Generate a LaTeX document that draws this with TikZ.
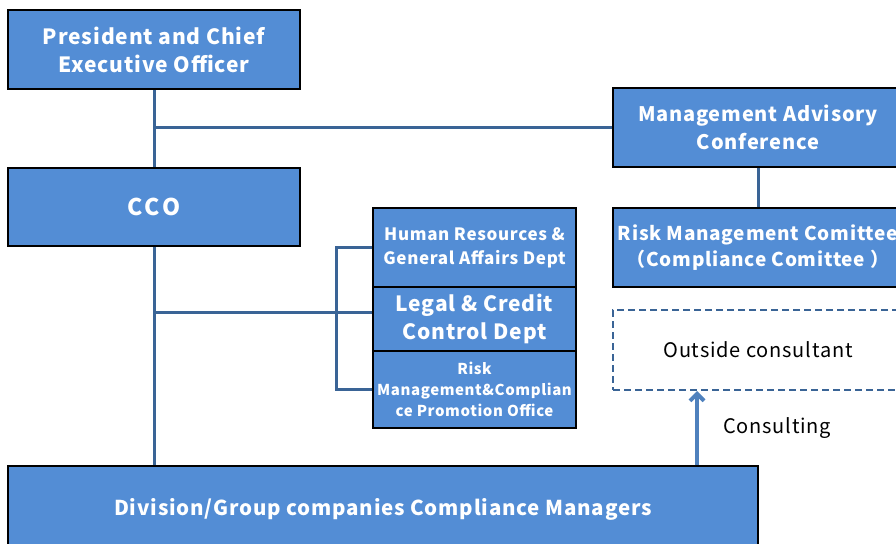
\documentclass[tikz,border=0pt]{standalone}
\usepackage{fontspec}
\setmainfont{Noto Sans CJK JP}[LetterSpace=4]
\usetikzlibrary{arrows.meta}
\definecolor{boxblue}{RGB}{83,141,213}
\definecolor{linkblue}{RGB}{58,100,150}
\definecolor{arrowblue}{RGB}{79,129,189}
\tikzset{
  orgbox/.style={draw=black, line width=1.5pt, fill=boxblue, text=white, align=center, inner sep=0pt},
  link/.style={draw=linkblue, line width=3pt},
  dashbox/.style={draw=linkblue, line width=2pt, dash pattern=on 7pt off 4pt, align=center, inner sep=0pt},
  consultarrow/.style={draw=arrowblue, line width=4pt, -{Straight Barb[length=7pt,width=14pt]}},
}
\newcommand{\fs}[2]{\fontsize{#1}{#2}\selectfont}
\begin{document}
\begin{tikzpicture}[x=1pt,y=-1pt]
\useasboundingbox (0,0) rectangle (896,543);
\node[orgbox, minimum width=292, minimum height=79, font=\bfseries\fs{21}{28}] (ceo) at (154,49.5) {President and Chief\\Executive Officer};
\node[orgbox, minimum width=292, minimum height=78, font=\bfseries\fs{23}{28}\addfontfeatures{LetterSpace=12}] (cco) at (154,207) {CCO};
\node[orgbox, minimum width=290, minimum height=79, font=\bfseries\fs{20}{28}] (mac) at (758,127.5) {Management Advisory\\Conference};
\node[orgbox, minimum width=290, minimum height=79, font=\bfseries\fs{19}{26}] (rmc) at (758,247.5) {Risk Management Comittee\\（Compliance Comittee ）};
\node[orgbox, minimum width=203, minimum height=79, font=\bfseries\fs{17}{24}] (hr) at (474.5,247.5) {Human Resources \&\\General Affairs Dept};
\node[orgbox, minimum width=203, minimum height=64, font=\bfseries\fs{21}{28}] (legal) at (474.5,319) {Legal \& Credit\\Control Dept};
\node[orgbox, minimum width=203, minimum height=77, font=\bfseries\fs{15}{21}] (risk) at (474.5,389.5) {Risk\\Management\&Complian\\ce Promotion Office};
\node[dashbox, minimum width=290, minimum height=80, font=\fs{20}{24}] (consult) at (758,350) {Outside consultant};
\node[orgbox, minimum width=750, minimum height=86, font=\bfseries\fs{20.5}{28}] (div) at (383,509) {Division/Group companies Compliance Managers};
\node[font=\fs{20}{24}, anchor=center] (lbl) at (777,428) {Consulting};
\coordinate (j) at (154,312);
\coordinate (ax) at (697,0);
\draw[link] (ceo.south) -- (cco.north);
\draw[link] (mac.west) -- (mac.west -| ceo.south);
\draw[link] (mac.south) -- (rmc.north);
\draw[link] (cco.south) -- (cco.south |- div.north);
\draw[link] (j) -- (j -| legal.west);
\draw[link] (hr.west) -- ++(-36,0) |- (risk.west);
\draw[consultarrow] (div.north -| ax) -- (consult.south -| ax);
\end{tikzpicture}
\end{document}
